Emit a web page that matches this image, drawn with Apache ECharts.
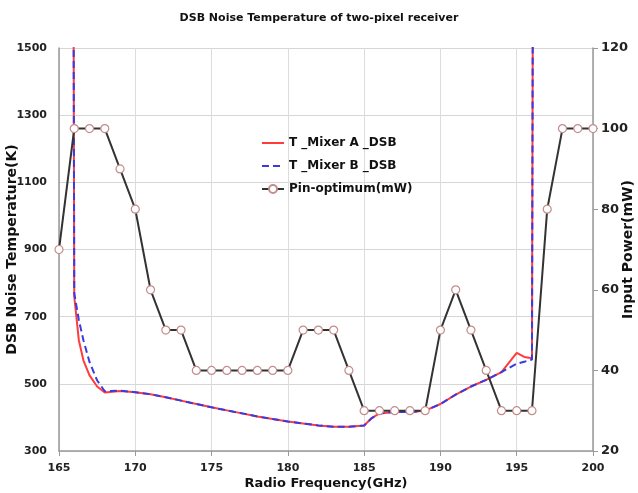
<!DOCTYPE html>
<html>
<head>
<meta charset="utf-8">
<script src="https://cdn.jsdelivr.net/npm/echarts@6/dist/echarts.min.js"></script>
<style>
  html, body { margin: 0; padding: 0; background: #fff; }
  #main { width: 638px; height: 493px; }
</style>
</head>
<body>
<div id="main"></div>
<script>
// mixer curves (GHz, K) - huge end values make the vertical edges
const mixFreq = [165, 166, 166.3, 166.6, 167, 167.5, 168, 169, 170, 171, 172, 173, 174, 175, 176, 177, 178, 179, 180,
  181, 182, 183, 184, 185, 185.5, 186, 187, 188, 189, 190, 191, 192, 193, 194, 195, 195.5, 196, 197];
const mixerA = [20000, 760, 630, 570, 525, 492, 474, 479, 475, 469, 460, 450, 440, 430, 421, 412, 403, 395, 388,
  382, 376, 372, 372, 376, 398, 412, 416, 416, 420, 440, 468, 492, 512, 535, 592, 580, 576, 20000];
const mixerB = [20000, 770, 690, 630, 565, 510, 478, 480, 475, 469, 460, 450, 440, 430, 421, 412, 403, 395, 388,
  382, 376, 372, 372, 376, 398, 412, 416, 416, 420, 440, 468, 492, 512, 535, 560, 566, 572, 20000];

// pin optimum (GHz, mW)
const pinFreq = [165, 166, 167, 168, 169, 170, 171, 172, 173, 174, 175, 176, 177, 178, 179, 180, 181, 182,
  183, 184, 185, 186, 187, 188, 189, 190, 191, 192, 193, 194, 195, 196, 197, 198, 199, 200];
const pinPower = [70, 100, 100, 100, 90, 80, 60, 50, 50, 40, 40, 40, 40, 40, 40, 40, 50, 50,
  50, 40, 30, 30, 30, 30, 30, 50, 60, 50, 40, 30, 30, 30, 80, 100, 100, 100];

const pairs = (xs, ys) => xs.map((x, i) => [x, ys[i]]);
const font = 'DejaVu Sans';
const lblStyle = { color: '#222', fontWeight: 'bold', fontSize: 11, fontFamily: font };
const nameStyle = { color: '#111', fontWeight: 'bold', fontSize: 12, fontFamily: font };

var chart = echarts.init(document.getElementById('main'));
chart.setOption({
  animation: false,
  title: {
    text: 'DSB Noise Temperature of two-pixel receiver',
    left: 'center',
    top: 8,
    textStyle: { color: '#111', fontWeight: 'bold', fontSize: 11, fontFamily: font }
  },
  legend: {
    orient: 'vertical',
    left: 256,
    top: 132,
    itemWidth: 22,
    itemHeight: 10,
    itemGap: 11,
    textStyle: { color: '#111', fontWeight: 'bold', fontSize: 12, fontFamily: font },
    data: [
      { name: 'T _Mixer A _DSB', itemStyle: { opacity: 0 } },
      { name: 'T _Mixer B _DSB', itemStyle: { opacity: 0 } },
      { name: 'Pin-optimum(mW)' }
    ]
  },
  grid: { left: 59, right: 45, top: 48, bottom: 42, outerBoundsMode: 'none', containLabel: false },
  xAxis: {
    type: 'value',
    min: 165, max: 200, interval: 5,
    name: 'Radio Frequency(GHz)',
    nameLocation: 'middle',
    nameGap: 26,
    nameMoveOverlap: false,
    nameTextStyle: Object.assign({}, nameStyle, { fontSize: 13 }),
    axisLine: { lineStyle: { color: '#999', width: 1.5 } },
    axisTick: { show: true, length: 5, lineStyle: { color: '#999' } },
    axisLabel: Object.assign({ margin: 12 }, lblStyle),
    splitLine: { show: true, lineStyle: { color: '#dcdcdc' } }
  },
  yAxis: [
    {
      type: 'value',
      min: 300, max: 1500, interval: 200,
      name: 'DSB Noise Temperature(K)',
      nameLocation: 'middle',
      nameRotate: 90,
      nameGap: 40,
      nameMoveOverlap: false,
      nameTextStyle: Object.assign({}, nameStyle, { fontSize: 14 }),
      axisLine: { show: true, lineStyle: { color: '#999', width: 1.5 } },
      axisTick: { show: false },
      axisLabel: Object.assign({ margin: 12, formatter: v => String(v) }, lblStyle),
      splitLine: { show: true, lineStyle: { color: '#d6d6d6' } }
    },
    {
      type: 'value',
      min: 20, max: 120, interval: 20,
      name: 'Input Power(mW)',
      nameLocation: 'middle',
      nameRotate: 90,
      nameGap: 28,
      nameMoveOverlap: false,
      nameTextStyle: Object.assign({}, nameStyle, { fontSize: 14 }),
      axisLine: { show: true, lineStyle: { color: '#999', width: 1.5 } },
      axisTick: { show: true, length: 5, lineStyle: { color: '#999' } },
      axisLabel: Object.assign({ margin: 8 }, lblStyle, { fontSize: 13 }),
      splitLine: { show: false }
    }
  ],
  series: [
    {
      name: 'T _Mixer A _DSB',
      type: 'line',
      data: pairs(mixFreq, mixerA),
      showSymbol: false,
      symbol: 'none',
      color: '#ff3b3b',
      lineStyle: { color: '#ff3b3b', width: 2 }
    },
    {
      name: 'T _Mixer B _DSB',
      type: 'line',
      data: pairs(mixFreq, mixerB),
      showSymbol: false,
      symbol: 'none',
      color: '#3a3ae0',
      lineStyle: { color: '#3a3ae0', width: 2, type: [7, 4] }
    },
    {
      name: 'Pin-optimum(mW)',
      type: 'line',
      yAxisIndex: 1,
      data: pairs(pinFreq, pinPower),
      symbol: 'circle',
      symbolSize: 8,
      color: '#333',
      lineStyle: { color: '#333', width: 2 },
      itemStyle: { color: '#fff', borderColor: '#c48c8c', borderWidth: 1.2 }
    }
  ]
});
</script>
</body>
</html>
